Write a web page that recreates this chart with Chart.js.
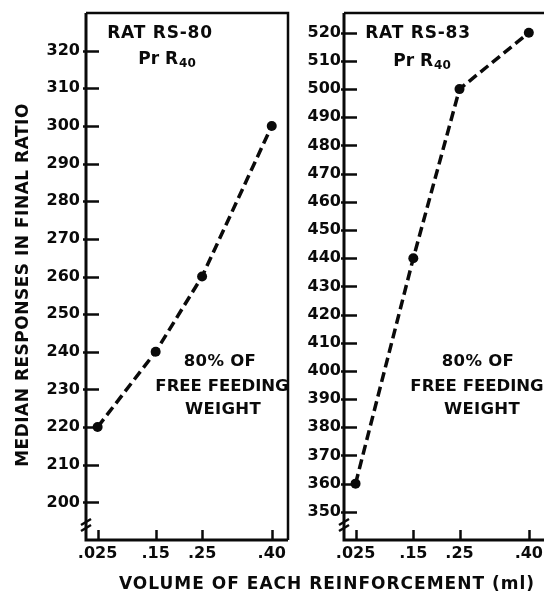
<!DOCTYPE html>
<html><head><meta charset="utf-8">
<script src="https://cdn.jsdelivr.net/npm/chart.js@4/dist/chart.umd.min.js"></script>
<style>
html,body{margin:0;padding:0;width:544px;height:593px;overflow:hidden;background:#fff;}
#c1{position:absolute;left:0;top:0;}
#c2{position:absolute;left:290px;top:0;}
#xt{position:absolute;top:573px;left:327px;transform:translateX(-50%);white-space:nowrap;font:bold 17px "DejaVu Sans";letter-spacing:1px;color:#0a0a0a;line-height:20px;}
</style></head><body>
<canvas id="c1" width="300" height="593"></canvas>
<canvas id="c2" width="260" height="593"></canvas>
<div id="xt">VOLUME OF EACH REINFORCEMENT (ml)</div>
<script>
// ---- data ----
const volumes = [0.025, 0.15, 0.25, 0.40];
const volumeLabels = ['.025', '.15', '.25', '.40'];
const rs80Responses = [220, 240, 260, 300];
const rs83Responses = [360, 440, 500, 520];
const rs80Ticks = [200, 210, 220, 230, 240, 250, 260, 270, 280, 290, 300, 310, 320];
const rs83Ticks = [350, 360, 370, 380, 390, 400, 410, 420, 430, 440, 450, 460, 470, 480, 490, 500, 510, 520];
const yAxisTitle = 'MEDIAN RESPONSES IN FINAL RATIO';
const ratNames = ['RAT RS-80', 'RAT RS-83'];
const conditionLines = ['80% OF', 'FREE FEEDING', 'WEIGHT'];

const INK = '#0a0a0a';
const FONT = '"DejaVu Sans", sans-serif';

function framePlugin(cfg) {
  return {
    id: 'frame',
    afterDraw(chart) {
      const ctx = chart.ctx;
      const a = chart.chartArea;
      const xs = chart.scales.x, ys = chart.scales.y;
      ctx.save();
      ctx.strokeStyle = INK;
      ctx.fillStyle = INK;
      // frame
      ctx.lineWidth = 3;
      ctx.beginPath();
      ctx.moveTo(a.left, a.top); ctx.lineTo(a.left, a.bottom); ctx.lineTo(a.right, a.bottom);
      ctx.stroke();
      ctx.lineWidth = 2.5;
      ctx.beginPath();
      ctx.moveTo(a.left, a.top); ctx.lineTo(a.right, a.top);
      if (cfg.rightBorder) ctx.lineTo(a.right, a.bottom);
      ctx.stroke();
      // y ticks (inside)
      ctx.lineWidth = 2.5;
      ys.ticks.forEach(t => {
        const y = Math.round(ys.getPixelForValue(t.value)) + 0.5;
        ctx.beginPath(); ctx.moveTo(a.left - 3, y); ctx.lineTo(a.left + 13, y); ctx.stroke();
      });
      // x ticks (inside)
      xs.ticks.forEach(t => {
        const x = Math.round(xs.getPixelForValue(t.value)) + 0.5;
        ctx.beginPath(); ctx.moveTo(x, a.bottom); ctx.lineTo(x, a.bottom - 10); ctx.stroke();
      });
      // axis break mark
      ctx.lineWidth = 2.5;
      const by = a.bottom - 17;
      ctx.beginPath(); ctx.moveTo(a.left - 5, by + 2); ctx.lineTo(a.left + 5, by - 4); ctx.stroke();
      ctx.beginPath(); ctx.moveTo(a.left - 5, by + 8); ctx.lineTo(a.left + 5, by + 2); ctx.stroke();
      // annotations
      ctx.textBaseline = 'middle';
      cfg.notes.forEach(n => {
        ctx.font = 'bold ' + n.size + 'px ' + FONT;
        ctx.letterSpacing = (n.ls || 0) + 'px';
        const w = ctx.measureText(n.text).width;
        let sw = 0;
        if (n.sub) {
          ctx.font = 'bold ' + (n.size - 5) + 'px ' + FONT;
          sw = ctx.measureText(n.sub).width + 1;
        }
        const x0 = a.left + n.dx - (w + sw) / 2;
        const y0 = a.top + n.dy;
        ctx.textAlign = 'left';
        ctx.font = 'bold ' + n.size + 'px ' + FONT;
        ctx.fillText(n.text, x0, y0);
        if (n.sub) {
          ctx.font = 'bold ' + (n.size - 5) + 'px ' + FONT;
          ctx.fillText(n.sub, x0 + w + 1, y0 + 4);
        }
      });
      // y axis title
      if (cfg.yTitle) {
        ctx.font = 'bold 17px ' + FONT;
        ctx.letterSpacing = '0.5px';
        ctx.textAlign = 'center';
        ctx.translate(24, 285);
        ctx.rotate(-Math.PI / 2);
        ctx.fillText(cfg.yTitle, 0, 0);
      }
      ctx.restore();
    }
  };
}

function makeChart(id, values, yTicks, yMin, yMax, yAxisWidth, labelPad, padRight, cfg) {
  const tickFont = { family: FONT, weight: 'bold', size: 16 };
  return new Chart(document.getElementById(id), {
    type: 'scatter',
    data: {
      datasets: [{
        data: volumes.map((v, i) => ({ x: v, y: values[i] })),
        showLine: true,
        borderColor: INK,
        borderWidth: 3.5,
        borderDash: [10, 5],
        borderCapStyle: 'butt',
        tension: 0,
        pointRadius: 5,
        pointBackgroundColor: INK,
        pointBorderWidth: 0,
        clip: false
      }]
    },
    options: {
      responsive: false,
      animation: false,
      devicePixelRatio: 1,
      layout: { padding: { top: 13, right: padRight, left: 0, bottom: 0 } },
      plugins: { legend: { display: false }, tooltip: { enabled: false } },
      scales: {
        x: {
          type: 'linear', min: 0, max: 0.435,
          grid: { display: false, drawTicks: false },
          border: { display: false },
          afterBuildTicks: s => { s.ticks = volumes.map(v => ({ value: v })); },
          ticks: {
            callback: v => volumeLabels[volumes.indexOf(v)],
            color: INK, font: tickFont, padding: 4, maxRotation: 0, autoSkip: false
          },
          afterFit: s => { s.height = 53; s.paddingLeft = 0; s.paddingRight = 0; }
        },
        y: {
          type: 'linear', min: yMin, max: yMax,
          grid: { display: false, drawTicks: false },
          border: { display: false },
          afterBuildTicks: s => { s.ticks = yTicks.map(v => ({ value: v })); },
          ticks: { color: INK, font: tickFont, padding: labelPad, autoSkip: false },
          afterFit: s => { s.width = yAxisWidth; s.paddingTop = 0; s.paddingBottom = 0; }
        }
      }
    },
    plugins: [framePlugin(cfg)]
  });
}

makeChart('c1', rs80Responses, rs80Ticks, 190, 330, 86, 6, 12, {
  yTitle: yAxisTitle,
  rightBorder: true,
  notes: [
    { text: ratNames[0], dx: 74, dy: 20.5, size: 17, ls: 0.8 },
    { text: 'Pr R', sub: '40', dx: 81, dy: 47, size: 17 },
    { text: conditionLines[0], dx: 134, dy: 349, size: 16.5, ls: 0.3 },
    { text: conditionLines[1], dx: 136, dy: 374, size: 16.5 },
    { text: conditionLines[2], dx: 137, dy: 397, size: 16.5, ls: 0.3 }
  ]
});
makeChart('c2', rs83Responses, rs83Ticks, 340, 527, 54, 3, 0, {
  rightBorder: false,
  notes: [
    { text: ratNames[1], dx: 74, dy: 20.5, size: 17, ls: 0.8 },
    { text: 'Pr R', sub: '40', dx: 78, dy: 49, size: 17 },
    { text: conditionLines[0], dx: 134, dy: 349, size: 16.5, ls: 0.3 },
    { text: conditionLines[1], dx: 133, dy: 374, size: 16.5 },
    { text: conditionLines[2], dx: 138, dy: 397, size: 16.5, ls: 0.3 }
  ]
});
</script>
</body></html>
